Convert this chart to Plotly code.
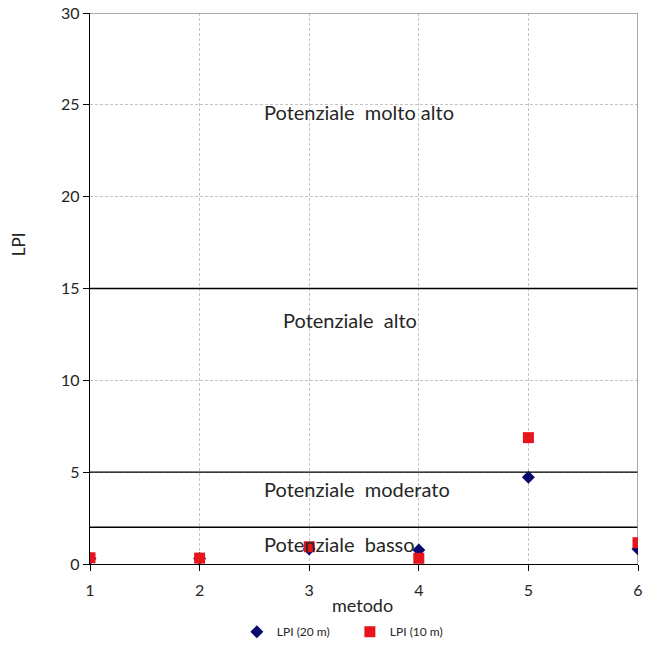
import plotly.graph_objects as go

# Metodi di calcolo e valori dell'indice di potenziale di liquefazione
metodo = [1, 2, 3, 4, 5, 6]
lpi_20m = [0.3, 0.3, 0.82, 0.76, 4.72, 0.82]
lpi_10m = [0.34, 0.32, 0.94, 0.31, 6.88, 1.16]

# Soglie delle classi di potenziale
soglie = [2, 5, 15]
classi = ["Potenziale\u00a0 basso", "Potenziale\u00a0 moderato", "Potenziale\u00a0 alto", "Potenziale\u00a0 molto alto"]
classi_x = [2.57, 2.57, 2.74, 2.57]
classi_y = [1.1, 4.1, 13.3, 24.6]

y_ticks = [0, 5, 10, 15, 20, 25, 30]
x_ticks = [1, 2, 3, 4, 5, 6]

FONT = "Lato, 'Open Sans', sans-serif"
TXT = "#262626"

fig = go.Figure()

fig.add_trace(go.Scatter(
    x=metodo, y=lpi_20m, mode="markers", name="LPI (20 m)",
    marker=dict(symbol="diamond", size=10, color="#0a0a6e"),
))
fig.add_trace(go.Scatter(
    x=metodo, y=lpi_10m, mode="markers", name="LPI (10 m)",
    marker=dict(symbol="square", size=11, color="#e8141c"),
))

for s in soglie:
    fig.add_shape(type="line", xref="x", yref="y", x0=1, x1=6, y0=s, y1=s,
                  line=dict(color="black", width=1.3), layer="between")

# Bordo superiore e destro dell'area del grafico
fig.add_shape(type="line", xref="x", yref="y", x0=1, x1=6, y0=30, y1=30,
              line=dict(color="#8c8c8c", width=1.5), layer="between")
fig.add_shape(type="line", xref="x", yref="y", x0=6, x1=6, y0=0, y1=30,
              line=dict(color="#8c8c8c", width=1.5), layer="between")

for txt, xx, yy in zip(classi, classi_x, classi_y):
    fig.add_annotation(x=xx, y=yy, text=txt, showarrow=False, xref="x", yref="y",
                       xanchor="left",
                       font=dict(family=FONT, size=20, color=TXT))

# Titoli degli assi
fig.add_annotation(x=0.497, y=-0.075, xref="paper", yref="paper", text="metodo",
                   xanchor="center", yanchor="middle",
                   showarrow=False, font=dict(family=FONT, size=18, color=TXT))
fig.add_annotation(x=-0.13, y=0.58, xref="paper", yref="paper", text="LPI",
                   xanchor="center", yanchor="middle",
                   showarrow=False, textangle=-90, font=dict(family=FONT, size=17, color=TXT))

fig.update_layout(
    width=651, height=650,
    margin=dict(l=90, r=13, t=13, b=86, autoexpand=False),
    paper_bgcolor="white", plot_bgcolor="white",
    font=dict(family=FONT, size=16, color=TXT),
    showlegend=True,
    legend=dict(orientation="h", x=0.268, xanchor="left", y=-0.123, yanchor="middle",
                font=dict(family=FONT, size=12, color=TXT),
                itemwidth=30, tracegroupgap=0,
                entrywidth=68, entrywidthmode="pixels"),
    xaxis=dict(
        range=[1, 6], tickvals=x_ticks, showgrid=True, automargin=False,
        gridcolor="#c4c4c4", griddash="3px,2px", gridwidth=1,
        showline=True, linecolor="black", linewidth=1.3,
        ticks="outside", ticklen=6, tickcolor="black", ticklabelstandoff=6,
        zeroline=False,
    ),
    yaxis=dict(
        range=[0, 30], tickvals=y_ticks, showgrid=True, automargin=False,
        gridcolor="#c4c4c4", griddash="3px,2px", gridwidth=1,
        showline=True, linecolor="black", linewidth=1.3,
        ticks="outside", ticklen=6, tickcolor="black",
        zeroline=False,
    ),
)

fig.write_html("out.html")
